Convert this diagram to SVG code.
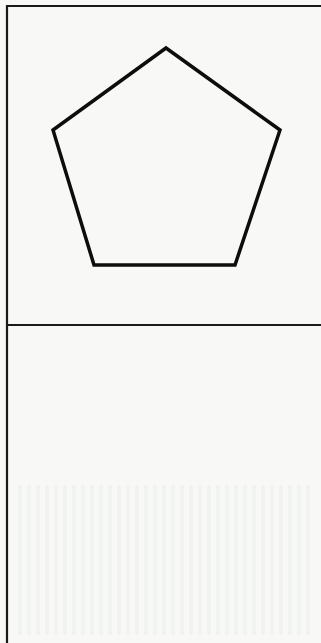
<svg xmlns="http://www.w3.org/2000/svg" width="321" height="643" viewBox="0 0 321 643">
  <defs>
    <style>
      .frame { fill: none; stroke: #1a1a1a; stroke-width: 2.2; }
      .shape { fill: none; stroke: #0d0d0d; stroke-width: 3.5; stroke-linejoin: miter; }
    </style>
    <pattern id="stripes" x="0" y="0" width="9" height="10" patternUnits="userSpaceOnUse">
      <rect x="0" y="0" width="4" height="10" fill="#eceef0"/>
    </pattern>
  </defs>
  <rect x="0" y="0" width="321" height="643" fill="#f8f8f6"/>
  <rect x="14" y="485" width="296" height="150" fill="url(#stripes)" opacity="0.6"/>
  <g id="frame">
    <polyline class="frame" points="7,643 7,6 321,6"/>
    <line class="frame" x1="7" y1="325" x2="321" y2="325"/>
  </g>
  <g id="pentagon">
    <polygon class="shape" points="166,48 280,130 235,265 94,265 53,130"/>
  </g>
</svg>
